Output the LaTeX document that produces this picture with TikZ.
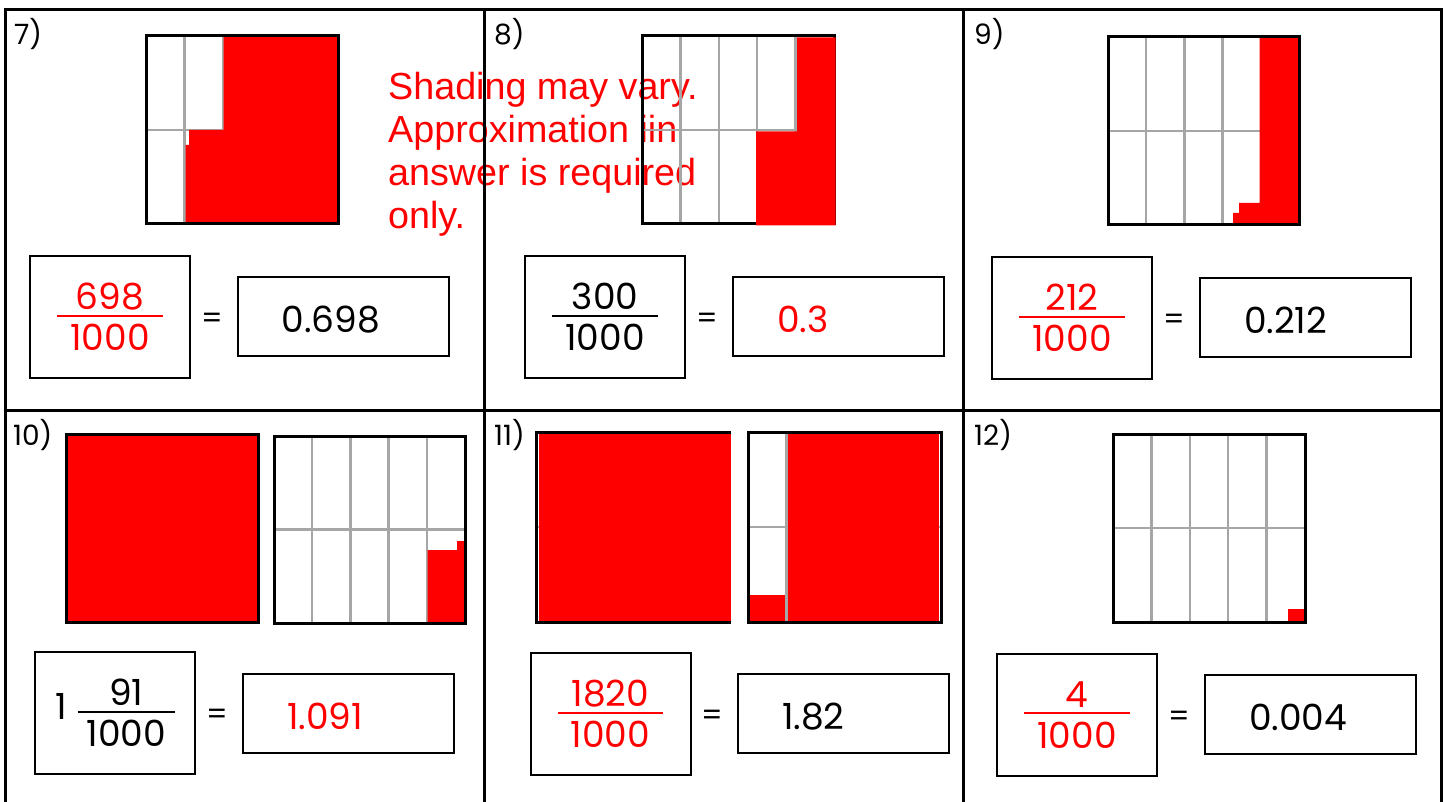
\documentclass[tikz,border=0pt]{standalone}
\usepackage{fontspec}
\newfontfamily\numfont{Poppins}
\newfontfamily\notefont{Liberation Sans}
\definecolor{fillred}{RGB}{255,0,0}
\definecolor{gridgray}{RGB}{166,166,166}

% stacked fraction with a rule a bit wider than the digits
\newcommand{\fr}[3][12pt]{{\renewcommand\arraystretch{0}\setlength\arrayrulewidth{2pt}%
  \begin{tabular}{@{\hspace{#1}}c@{\hspace{#1}}}\rule[-5pt]{0pt}{5pt}#2\\\hline\rule{0pt}{34pt}#3\end{tabular}}}

% 5 x 2 tenths grid: x0, y0, width, height
\newcommand{\tenths}[4]{%
  \foreach \k in {1,...,4} \draw[grid line] ({#1+#3*\k/5},#2) -- ++(0,#4);
  \draw[grid line] (#1,{#2+#4/2}) -- ++(#3,0);
}

\begin{document}
\begin{tikzpicture}[x=1pt, y=-1pt,
  border line/.style={line width=3pt},
  grid line/.style={gridgray, line width=2.5pt},
  grid box/.style={line width=3pt},
  frac box/.style={draw, line width=2pt, minimum width=160pt, minimum height=122pt, inner sep=0pt,
    font=\numfont\fontsize{36}{43}\selectfont},
  ans box/.style={draw, line width=2pt, minimum height=79pt, text width=123pt, inner xsep=44pt, inner ysep=0pt,
    align=left, text height=31pt, text depth=0pt, font=\numfont\fontsize{36}{43}\selectfont},
  eq/.style={inner sep=0pt, font=\numfont\fontsize{30}{36}\selectfont},
  qnum/.style={anchor=base west, inner sep=0pt, font=\numfont\fontsize{28}{33}\selectfont},
  note/.style={anchor=base west, inner sep=0pt, align=left, text=fillred,
    font=\notefont\fontsize{37.7}{43}\selectfont}
]
\useasboundingbox (0,0) rectangle (1447,802);

% base anchor sits on the last line here
\node[note] (hint) at (388,229) {Shading may vary.\\Approximation iin\\answer is required\\only.};

% table lines
\draw[border line] (5,802) -- (5,10) -- (1441,10) -- (1441,802);
\draw[border line] (5,410) -- (1441,410);
\draw[border line] (484,10) -- (484,802);
\draw[border line] (963,10) -- (963,802);

% 7)
\node[qnum] (l7) at (14,45) {7)};
\tenths{146}{36}{192}{188}
\fill[fillred] (223.5,36) -- (338,36) -- (338,224) -- (185.5,224) -- (185.5,145) -- (189,145)
  -- (189,130) -- (223.5,130) -- cycle;
\draw[grid box] (146,36) rectangle ++(192,188);
\node[frac box, text=fillred] (f7) at (110,317) {\fr[13pt]{698}{1000}};
\node[eq] (e7) at (212,321) {=};
\node[ans box] (a7) at (343,316.5) {0.698};

% 8)
\node[qnum] (l8) at (494,45) {8)};
\tenths{642}{36}{192}{188}
\draw[grid box] (642,36) rectangle ++(192,188);
\fill[fillred] (797,37.5) -- (835.5,37.5) -- (835.5,225.5) -- (756,225.5) -- (756,131.3) -- (797,131.3) -- cycle;
\node[frac box] (f8) at (605,317) {\fr[13pt]{300}{1000}};
\node[eq] (e8) at (707,321) {=};
\node[ans box, text=fillred] (a8) at (838.5,316.5) {0.3};

% 9)
\node[qnum] (l9) at (974,45) {9)};
\tenths{1108}{37}{191}{188}
\fill[fillred] (1259.5,37) -- (1299,37) -- (1299,225) -- (1233,225) -- (1233,213) -- (1239,213)
  -- (1239,203) -- (1259.5,203) -- cycle;
\draw[grid box] (1108,37) rectangle ++(191,188);
\node[frac box, text=fillred] (f9) at (1072,318) {\fr[13pt]{212}{1000}};
\node[eq] (e9) at (1174,322) {=};
\node[ans box] (a9) at (1305.5,317.5) {0.212};

% 10)
\node[qnum] (l10) at (13,445) {10)};
\filldraw[grid box, fill=fillred] (66,434) rectangle (258,622);
\tenths{274}{436}{191}{187}
\fill[fillred] (427.5,550) -- (457,550) -- (457,541) -- (465,541) -- (465,623) -- (427.5,623) -- cycle;
\draw[grid box] (274,436) rectangle (465,623);
\node[frac box] (f10) at (115,713) {1\hspace{11pt}\fr[9pt]{91}{1000}};
\node[eq] (e10) at (217,717) {=};
\node[ans box, text=fillred] (a10) at (348.5,713.5) {1.091};

% 11)
\node[qnum] (l11) at (494,445) {11)};
\tenths{536}{432}{193}{190}
\draw[grid box] (536,432) rectangle (729,622);
\fill[fillred] (539,434) rectangle (730.5,620.5);
\tenths{748}{432}{193}{190}
\fill[fillred] (787.9,434) rectangle (938.5,621);
\fill[fillred] (750,595) rectangle (785.3,621);
\draw[grid box] (748,432) rectangle (941,622);
\node[frac box, text=fillred] (f11) at (610.5,714) {\fr[13pt]{1820}{1000}};
\node[eq] (e11) at (712,718) {=};
\node[ans box] (a11) at (843.5,713.5) {1.82};

% 12)
\node[qnum] (l12) at (974,445) {12)};
\tenths{1113}{434}{192}{188}
\fill[fillred] (1288,609) rectangle (1304,622);
\draw[grid box] (1113,434) rectangle ++(192,188);
\node[frac box, text=fillred] (f12) at (1077,715) {\fr[13pt]{4}{1000}};
\node[eq] (e12) at (1179,719) {=};
\node[ans box] (a12) at (1310.5,714.5) {0.004};
\end{tikzpicture}
\end{document}
